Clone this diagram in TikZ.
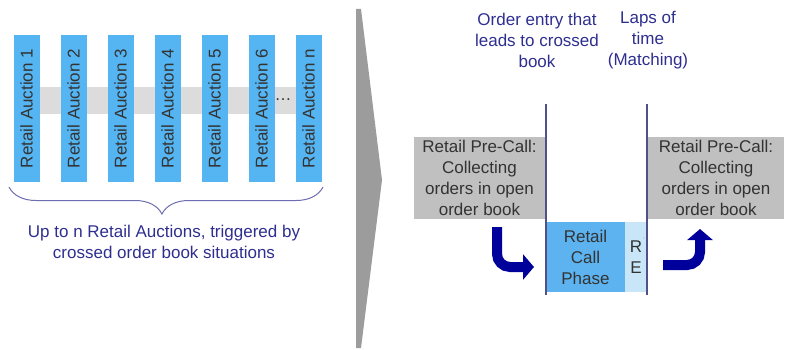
\documentclass[tikz,border=0pt]{standalone}
\usepackage{fontspec}
\setmainfont{Liberation Sans}
\usetikzlibrary{arrows.meta,decorations.pathreplacing}
\definecolor{barblue}{HTML}{55B5F2}
\definecolor{callblue}{HTML}{5DB3F0}
\definecolor{reblue}{HTML}{C9E5F8}
\definecolor{bandgray}{HTML}{DCDCDC}
\definecolor{boxgray}{HTML}{C0C0C0}
\definecolor{chevgray}{HTML}{9C9C9C}
\definecolor{txtblue}{HTML}{2E2E90}
\definecolor{arrblue}{HTML}{00009A}
\definecolor{linegray}{HTML}{50508A}
\definecolor{txtgray}{HTML}{333333}
\begin{document}
\begin{tikzpicture}[x=1pt,y=-1pt,
  font=\fontsize{17}{21}\selectfont,
  auctionbar/.style={fill=barblue, draw=none, rotate=90, minimum width=147pt, minimum height=26pt, inner sep=0pt, text=txtgray},
  precall/.style={fill=boxgray, draw=none, align=center, inner sep=0pt, text=txtgray, minimum height=82pt},
  bluelabel/.style={text=txtblue, align=center, inner sep=0pt},
  bigarrow/.style={draw=arrblue, line width=10pt, rounded corners=13pt, -{Triangle[width=25pt,length=11pt]}},
  phaseline/.style={draw=linegray, line width=1.4pt}]
\useasboundingbox (0,0) rectangle (792,350);
% left part
\fill[bandgray] (14,87) rectangle (322,114);
\foreach \i/\t in {0/1,1/2,2/3,3/4,4/5,5/6}{
  \node[auctionbar] (bar\t) at (26.5+47*\i,108.5) {Retail Auction \t};
}
\node[auctionbar] (barn) at (308.5,108.5) {Retail Auction n};
\node[text=txtgray, inner sep=0pt] (dots) at (283,100) {\dots};
\coordinate (bl) at (9,187);
\coordinate (br) at (323,187);
\draw[draw=txtblue!70, line width=1pt, decorate,
  decoration={brace, mirror, amplitude=27pt, aspect=0.487}] (bl) -- (br);
\node[bluelabel] (summary) at (164,242) {Up to n Retail Auctions, triggered by\\crossed order book situations};
% chevron
\fill[chevgray] (356,9) -- (361,9) -- (382,180) -- (361,348) -- (356,348) -- cycle;
% right part
\node[precall, minimum width=131pt] (preL) at (479.5,178) {Retail Pre-Call:\\Collecting\\orders in open\\order book};
\node[precall, minimum width=136pt] (preR) at (716,178) {Retail Pre-Call:\\Collecting\\orders in open\\order book};
\node[fill=callblue, minimum width=79pt, minimum height=70pt, inner sep=0pt, align=center, text=txtgray] (call) at (585.5,257) {Retail\\Call\\Phase};
\node[fill=reblue, minimum width=22pt, minimum height=70pt, inner sep=0pt, align=center, text=txtgray] (re) at (636,257) {R\\E};
\node[text=txtgray!40, inner sep=0pt, font=\fontsize{7}{8}\selectfont] (tick) at (644,240) {'};
\coordinate (l1t) at (546,104);
\coordinate (l1b) at (546,295);
\coordinate (l2t) at (647,104);
\coordinate (l2b) at (647,295);
\draw[phaseline] (l1t) -- (l1b);
\draw[phaseline] (l2t) -- (l2b);
\node[bluelabel] (entry) at (537,40) {Order entry that\\leads to crossed\\book};
\node[bluelabel] (laps) at (648,40) {Laps of\\time\\(Matching)};
% arrows
\coordinate (a1s) at (497,227);
\coordinate (a1c) at (497,267);
\coordinate (a1e) at (534,267);
\draw[bigarrow] (a1s) -- (a1c) -- (a1e);
\coordinate (a2s) at (663,265);
\coordinate (a2c) at (700,265);
\coordinate (a2e) at (700,229);
\draw[bigarrow] (a2s) -- (a2c) -- (a2e);
\end{tikzpicture}
\end{document}
